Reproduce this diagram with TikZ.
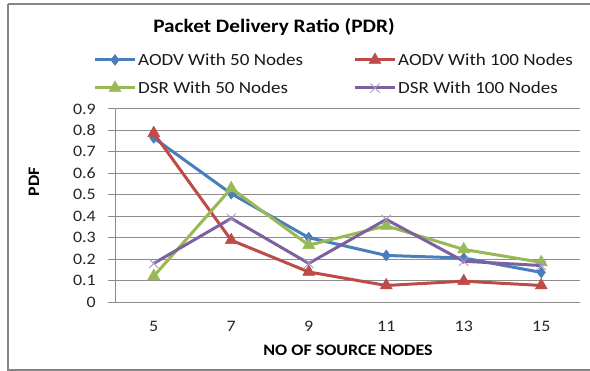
\documentclass[tikz,border=0pt]{standalone}
\usepackage{fontspec}
\setmainfont{Carlito}[FakeStretch=1.12]
\usetikzlibrary{plotmarks}
\definecolor{cblue}{HTML}{4A7EBB}
\definecolor{cred}{HTML}{BE4B48}
\definecolor{cgreen}{HTML}{98B954}
\definecolor{cpurple}{HTML}{7D60A0}
\definecolor{cpurplex}{HTML}{A896C8}
\definecolor{gridgray}{HTML}{8C8C8C}
\definecolor{framegray}{HTML}{868686}
\tikzset{
  gridline/.style={draw=gridgray, line width=0.9pt},
  ticklab/.style={font=\fontsize{16}{18}\selectfont, text=black!85, inner sep=0pt},
  legendlab/.style={font=\fontsize{17}{19}\selectfont, text=black!90, anchor=west, inner sep=0pt},
  axistitle/.style={font=\bfseries\fontsize{16}{18}\selectfont, inner sep=0pt},
  series/.style={line width=3pt, line join=round},
  sAODVa/.style={series, draw=cblue, mark=diamond*, mark size=5.5pt,
    mark options={fill=cblue, draw=cblue, line width=0.5pt}},
  sAODVb/.style={series, draw=cred, mark=triangle*, mark size=7pt,
    mark options={fill=cred, draw=cred, line width=0.5pt}},
  sDSRa/.style={series, draw=cgreen, mark=triangle*, mark size=7pt,
    mark options={fill=cgreen, draw=cgreen, line width=0.5pt}},
  sDSRb/.style={series, draw=cpurple, mark=x, mark size=6.5pt,
    mark options={draw=cpurplex, line width=0.9pt}},
}
\begin{document}
\begin{tikzpicture}[x=1pt, y=-1pt]
  \useasboundingbox (0,0) rectangle (590,371);
  \fill[white] (0,0) rectangle (590,371);
  % chart frame (runs past the right edge)
  \draw[framegray, line width=1.6pt] (8,4) -- (600,4) (8,4) -- (8,370) -- (600,370);

  % title
  \node[font=\bfseries\fontsize{19}{22}\selectfont, inner sep=0pt] (title) at (274,27) {Packet Delivery Ratio (PDR)};

  % legend: a short line with one marker in its middle, then the label
  \coordinate (l1a) at (95,60);  \coordinate (l1b) at (135,60);
  \coordinate (l2a) at (355,60); \coordinate (l2b) at (395,60);
  \coordinate (l3a) at (95,88);  \coordinate (l3b) at (135,88);
  \coordinate (l4a) at (355,88); \coordinate (l4b) at (395,88);
  \draw[series, cblue] (l1a) -- (l1b);
  \draw[sAODVa, draw=none] plot coordinates {(115,60)};
  \draw[series, cred] (l2a) -- (l2b);
  \draw[sAODVb, draw=none] plot coordinates {(375,60)};
  \draw[series, cgreen] (l3a) -- (l3b);
  \draw[sDSRa, draw=none] plot coordinates {(115,88)};
  \draw[series, cpurple] (l4a) -- (l4b);
  \draw[sDSRb, draw=none] plot coordinates {(375,88)};
  \node[legendlab] (t1) at (138,60) {AODV With 50 Nodes};
  \node[legendlab] (t2) at (398,60) {AODV With 100 Nodes};
  \node[legendlab] (t3) at (138,88) {DSR With 50 Nodes};
  \node[legendlab] (t4) at (398,88) {DSR With 100 Nodes};

  % gridlines, ticks and value labels (0 at y=302, 0.1 per 21.45)
  \foreach \v/\lab in {0/0,1/0.1,2/0.2,3/0.3,4/0.4,5/0.5,6/0.6,7/0.7,8/0.8,9/0.9}{
    \draw[gridline] (108,{302-21.45*\v}) -- (580,{302-21.45*\v});
    \node[ticklab, anchor=east] (y\v) at (96,{302-21.45*\v}) {\lab};
  }
  \draw[gridline] (115,{302-21.45*9}) -- (115,302);

  % category labels
  \foreach \c/\lab in {0/5,1/7,2/9,3/11,4/13,5/15}{
    \node[ticklab] (x\c) at ({153.75+77.5*\c},326) {\lab};
  }

  % axis titles
  \node[axistitle] (xtitle) at (348,350) {NO OF SOURCE NODES};
  \node[axistitle, rotate=90] (ytitle) at (34,182) {PDF};

  % data series
  \def\px#1{153.75+77.5*#1}
  \def\py#1{302-214.5*#1}
  \draw[sAODVa] plot coordinates {
    ({\px0},{\py{0.765}}) ({\px1},{\py{0.505}}) ({\px2},{\py{0.30}})
    ({\px3},{\py{0.217}}) ({\px4},{\py{0.205}}) ({\px5},{\py{0.138}})};
  \draw[sAODVb] plot coordinates {
    ({\px0},{\py{0.787}}) ({\px1},{\py{0.288}}) ({\px2},{\py{0.14}})
    ({\px3},{\py{0.077}}) ({\px4},{\py{0.097}}) ({\px5},{\py{0.077}})};
  \draw[sDSRa] plot coordinates {
    ({\px0},{\py{0.12}}) ({\px1},{\py{0.53}}) ({\px2},{\py{0.265}})
    ({\px3},{\py{0.355}}) ({\px4},{\py{0.245}}) ({\px5},{\py{0.185}})};
  \draw[sDSRb] plot coordinates {
    ({\px0},{\py{0.18}}) ({\px1},{\py{0.39}}) ({\px2},{\py{0.18}})
    ({\px3},{\py{0.385}}) ({\px4},{\py{0.19}}) ({\px5},{\py{0.17}})};
\end{tikzpicture}
\end{document}
